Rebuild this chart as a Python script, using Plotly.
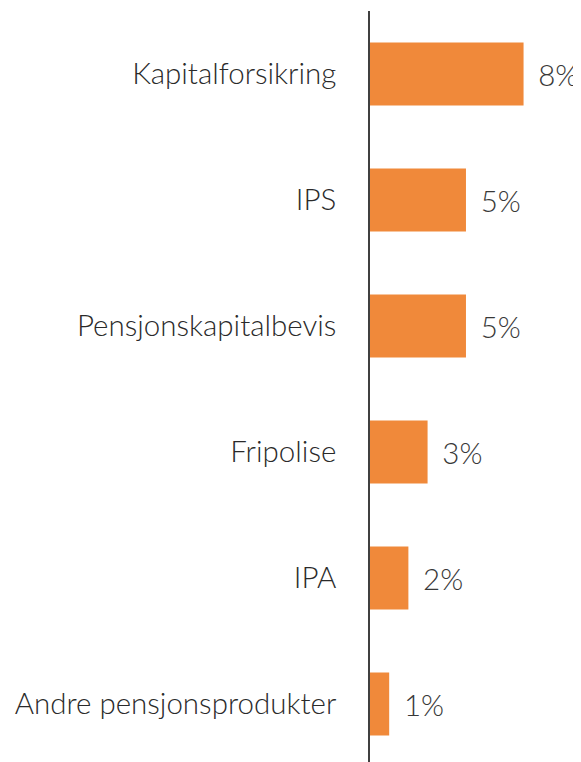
import plotly.graph_objects as go

# Kategorier (topp til bunn) og andel i prosent
produkter = [
    "Kapitalforsikring",
    "IPS",
    "Pensjonskapitalbevis",
    "Fripolise",
    "IPA",
    "Andre pensjonsprodukter",
]
andel = [8, 5, 5, 3, 2, 1]
etiketter = [f"{v}%" for v in andel]

fig = go.Figure()

fig.add_trace(go.Bar(
    x=andel,
    y=produkter,
    orientation="h",
    marker=dict(color="#F0893A", line=dict(width=0)),
    text=["\u00a0\u2009" + t for t in etiketter],
    textposition="outside",
    constraintext="none",
    cliponaxis=False,
    textfont=dict(family="Lato", size=29.5, color="#383838", weight=300),
    hoverinfo="skip",
))

fig.update_xaxes(
    range=[0, 10.68],
    showticklabels=False,
    showgrid=False,
    zeroline=False,
    showline=False,
)

fig.update_yaxes(
    type="category",
    range=[5.46, -0.5],
    showgrid=False,
    zeroline=False,
    showline=True,
    linecolor="#404040",
    linewidth=1.5,
    ticks="",
    ticklabelstandoff=26,
    tickfont=dict(family="Lato", size=29.5, color="#2a2a2a", weight=300),
)

# the page body adds an 8px margin, so the figure is 8px smaller
fig.update_layout(
    width=573,
    height=754,
    margin=dict(l=362, r=6, t=3, b=0),
    bargap=0.5,
    showlegend=False,
    plot_bgcolor="white",
    paper_bgcolor="white",
)

fig.write_html("out.html")
